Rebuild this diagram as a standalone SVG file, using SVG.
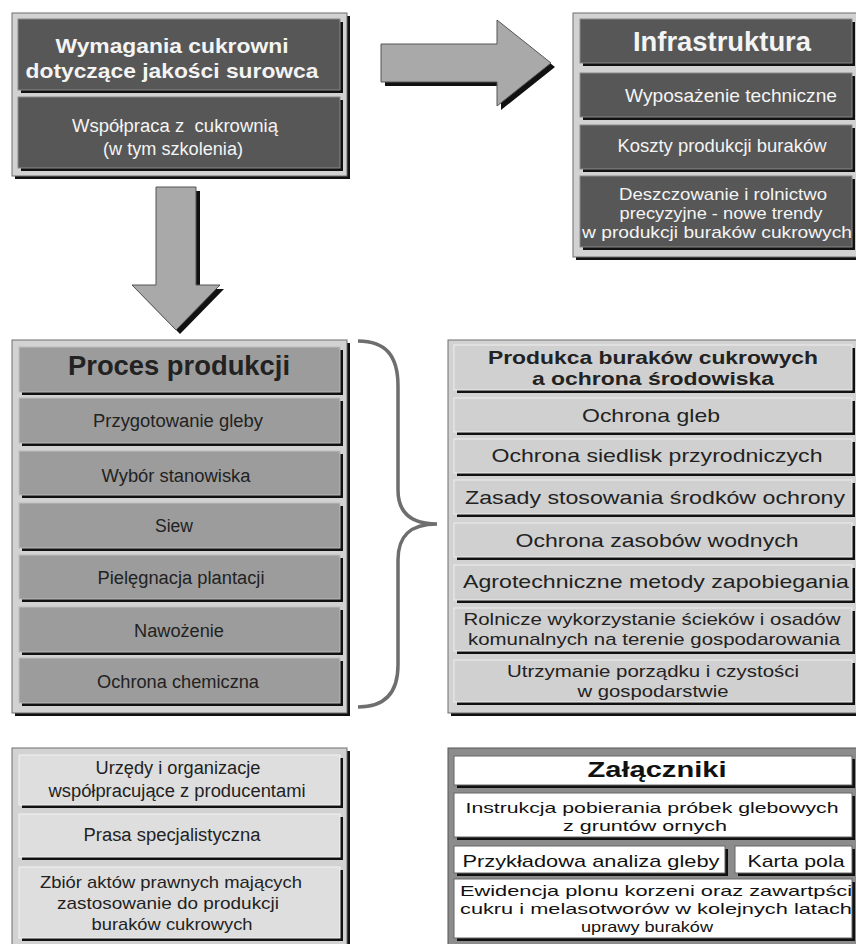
<svg xmlns="http://www.w3.org/2000/svg" width="856" height="944" viewBox="0 0 856 944">
<style>
text{font-family:"Liberation Sans",Arial,sans-serif;text-anchor:middle}
.fr{fill:#d2d2d2;stroke:#6e6e6e;stroke-width:1}
.frd{fill:#8c8c8c;stroke:#555;stroke-width:1}
.sh{fill:#111}
.dk{fill:#575757;stroke:#8a8a8a;stroke-width:1}
.md{fill:#9c9c9c;stroke:#bdbdbd;stroke-width:1}
.lt{fill:#d0d0d0;stroke:#eeeeee;stroke-width:1}
.lb{fill:#dedede;stroke:#f2f2f2;stroke-width:1}
.wh{fill:#ffffff;stroke:#666;stroke-width:1}
.tw{fill:#f4f4f4}
.tb{fill:#222}
.tk{fill:#111}
.b{font-weight:bold}
.arrow{fill:#a9a9a9;stroke:#555;stroke-width:1}
.brace{fill:none;stroke:#6e6e6e;stroke-width:3.5}
</style>

<g id="connectors">
  <path class="sh" d="M160,191 H200 V289 H224 L180,334 L136,289 H160 Z"/>
  <path class="arrow" d="M156,187 H196 V285 H220 L176,330 L132,285 H156 Z"/>
  <path class="sh" d="M385,48 H501 V24 L555,67 L501,110 V86 H385 Z"/>
  <path class="arrow" d="M381,44 H497 V20 L551,63 L497,106 V82 H381 Z"/>
  <path class="brace" d="M358,341 C386,341 398,356 398,386 L398,490 C398,512 410,524 437,524 C410,524 398,536 398,560 L398,665 C398,692 386,707 358,707"/>
</g>

<g id="wymagania">
  <rect class="sh" x="15" y="16" width="335" height="163"/>
  <rect class="fr" x="12" y="13" width="335" height="163"/>
  <rect class="sh" x="21" y="22" width="322" height="71"/>
  <rect class="dk" x="18" y="19" width="322" height="71"/>
  <text class="tw b" x="172" y="53" font-size="21" textLength="233" lengthAdjust="spacingAndGlyphs">Wymagania cukrowni</text>
  <text class="tw b" x="172" y="78" font-size="21" textLength="293" lengthAdjust="spacingAndGlyphs">dotyczące jakości surowca</text>
  <rect class="sh" x="21" y="100" width="322" height="71"/>
  <rect class="dk" x="18" y="97" width="322" height="71"/>
  <text class="tw" x="175" y="132" font-size="18" textLength="206" lengthAdjust="spacingAndGlyphs">Współpraca z&#160; cukrownią</text>
  <text class="tw" x="173" y="155" font-size="18" textLength="140" lengthAdjust="spacingAndGlyphs">(w tym szkolenia)</text>
</g>

<g id="infrastruktura">
  <rect class="sh" x="576" y="16" width="283" height="244"/>
  <rect class="fr" x="573" y="13" width="285" height="244"/>
  <rect class="sh" x="583" y="22" width="272" height="44"/>
  <rect class="dk" x="580" y="19" width="272" height="44"/>
  <text class="tw b" x="722" y="51" font-size="27" textLength="178" lengthAdjust="spacingAndGlyphs">Infrastruktura</text>
  <rect class="sh" x="583" y="76" width="272" height="44"/>
  <rect class="dk" x="580" y="73" width="272" height="44"/>
  <text class="tw" x="731" y="102" font-size="19" textLength="212" lengthAdjust="spacingAndGlyphs">Wyposażenie techniczne</text>
  <rect class="sh" x="583" y="128" width="272" height="44"/>
  <rect class="dk" x="580" y="125" width="272" height="44"/>
  <text class="tw" x="722" y="152" font-size="19" textLength="209" lengthAdjust="spacingAndGlyphs">Koszty produkcji buraków</text>
  <rect class="sh" x="583" y="179" width="272" height="71"/>
  <rect class="dk" x="580" y="176" width="272" height="71"/>
  <text class="tw" x="723" y="200" font-size="17" textLength="208" lengthAdjust="spacingAndGlyphs">Deszczowanie i rolnictwo</text>
  <text class="tw" x="721" y="219" font-size="17" textLength="203" lengthAdjust="spacingAndGlyphs">precyzyjne - nowe trendy</text>
  <text class="tw" x="717" y="238" font-size="17" textLength="270" lengthAdjust="spacingAndGlyphs">w produkcji buraków cukrowych</text>
</g>

<g id="proces">
  <rect class="sh" x="15" y="343" width="335" height="373"/>
  <rect class="fr" x="12" y="340" width="335" height="373"/>
  <rect class="sh" x="22" y="350" width="321" height="45"/>
  <rect class="md" x="19" y="347" width="321" height="45"/>
  <text class="tb b" x="179" y="375" font-size="27" textLength="222" lengthAdjust="spacingAndGlyphs">Proces produkcji</text>
  <rect class="sh" x="22" y="401" width="321" height="45"/>
  <rect class="md" x="19" y="398" width="321" height="45"/>
  <text class="tb" x="178" y="427" font-size="18" textLength="170" lengthAdjust="spacingAndGlyphs">Przygotowanie gleby</text>
  <rect class="sh" x="22" y="454" width="321" height="44"/>
  <rect class="md" x="19" y="451" width="321" height="44"/>
  <text class="tb" x="176" y="482" font-size="18" textLength="149" lengthAdjust="spacingAndGlyphs">Wybór stanowiska</text>
  <rect class="sh" x="22" y="506" width="321" height="45"/>
  <rect class="md" x="19" y="503" width="321" height="45"/>
  <text class="tb" x="174" y="532" font-size="18" textLength="38" lengthAdjust="spacingAndGlyphs">Siew</text>
  <rect class="sh" x="22" y="558" width="321" height="44"/>
  <rect class="md" x="19" y="555" width="321" height="44"/>
  <text class="tb" x="181" y="584" font-size="18" textLength="167" lengthAdjust="spacingAndGlyphs">Pielęgnacja plantacji</text>
  <rect class="sh" x="22" y="610" width="321" height="45"/>
  <rect class="md" x="19" y="607" width="321" height="45"/>
  <text class="tb" x="179" y="637" font-size="18" textLength="90" lengthAdjust="spacingAndGlyphs">Nawożenie</text>
  <rect class="sh" x="22" y="661" width="321" height="45"/>
  <rect class="md" x="19" y="658" width="321" height="45"/>
  <text class="tb" x="178" y="688" font-size="18" textLength="162" lengthAdjust="spacingAndGlyphs">Ochrona chemiczna</text>
</g>

<g id="srodowisko">
  <rect class="sh" x="451" y="343" width="408" height="373"/>
  <rect class="fr" x="448" y="340" width="410" height="373"/>
  <rect class="sh" x="457" y="348" width="398" height="45"/>
  <rect class="lt" x="454" y="345" width="398" height="45"/>
  <text class="tb b" x="653" y="364" font-size="19" textLength="330" lengthAdjust="spacingAndGlyphs">Produkca buraków cukrowych</text>
  <text class="tb b" x="653" y="385" font-size="19" textLength="242" lengthAdjust="spacingAndGlyphs">a ochrona środowiska</text>
  <rect class="sh" x="457" y="401" width="398" height="34"/>
  <rect class="lt" x="454" y="398" width="398" height="34"/>
  <text class="tb" x="651" y="422" font-size="19" textLength="138" lengthAdjust="spacingAndGlyphs">Ochrona gleb</text>
  <rect class="sh" x="457" y="442" width="398" height="34"/>
  <rect class="lt" x="454" y="439" width="398" height="34"/>
  <text class="tb" x="657" y="462" font-size="19" textLength="331" lengthAdjust="spacingAndGlyphs">Ochrona siedlisk przyrodniczych</text>
  <rect class="sh" x="457" y="483" width="398" height="34"/>
  <rect class="lt" x="454" y="480" width="398" height="34"/>
  <text class="tb" x="655" y="504" font-size="19" textLength="380" lengthAdjust="spacingAndGlyphs">Zasady stosowania środków ochrony</text>
  <rect class="sh" x="457" y="526" width="398" height="34"/>
  <rect class="lt" x="454" y="523" width="398" height="34"/>
  <text class="tb" x="657" y="547" font-size="19" textLength="283" lengthAdjust="spacingAndGlyphs">Ochrona zasobów wodnych</text>
  <rect class="sh" x="457" y="568" width="398" height="35"/>
  <rect class="lt" x="454" y="565" width="398" height="35"/>
  <text class="tb" x="656" y="588" font-size="19" textLength="386" lengthAdjust="spacingAndGlyphs">Agrotechniczne metody zapobiegania</text>
  <rect class="sh" x="457" y="611" width="398" height="43"/>
  <rect class="lt" x="454" y="608" width="398" height="43"/>
  <text class="tb" x="652" y="625" font-size="17" textLength="377" lengthAdjust="spacingAndGlyphs">Rolnicze wykorzystanie ścieków i osadów</text>
  <text class="tb" x="654" y="645" font-size="17" textLength="372" lengthAdjust="spacingAndGlyphs">komunalnych na terenie gospodarowania</text>
  <rect class="sh" x="457" y="663" width="398" height="42"/>
  <rect class="lt" x="454" y="660" width="398" height="42"/>
  <text class="tb" x="653" y="677" font-size="17" textLength="292" lengthAdjust="spacingAndGlyphs">Utrzymanie porządku i czystości</text>
  <text class="tb" x="653" y="697" font-size="17" textLength="151" lengthAdjust="spacingAndGlyphs">w gospodarstwie</text>
</g>

<g id="urzedy">
  <rect class="sh" x="15" y="751" width="335" height="200"/>
  <rect class="fr" x="12" y="748" width="335" height="200"/>
  <rect class="sh" x="22" y="758" width="321" height="50"/>
  <rect class="lb" x="19" y="755" width="321" height="50"/>
  <text class="tb" x="178" y="774" font-size="18" textLength="165" lengthAdjust="spacingAndGlyphs">Urzędy i organizacje</text>
  <text class="tb" x="177" y="797" font-size="18" textLength="257" lengthAdjust="spacingAndGlyphs">współpracujące z producentami</text>
  <rect class="sh" x="22" y="817" width="321" height="43"/>
  <rect class="lb" x="19" y="814" width="321" height="43"/>
  <text class="tb" x="172" y="841" font-size="18" textLength="177" lengthAdjust="spacingAndGlyphs">Prasa specjalistyczna</text>
  <rect class="sh" x="22" y="870" width="321" height="71"/>
  <rect class="lb" x="19" y="867" width="321" height="71"/>
  <text class="tb" x="171" y="888" font-size="17" textLength="262" lengthAdjust="spacingAndGlyphs">Zbiór aktów prawnych mających</text>
  <text class="tb" x="168" y="909" font-size="17" textLength="222" lengthAdjust="spacingAndGlyphs">zastosowanie do produkcji</text>
  <text class="tb" x="172" y="930" font-size="17" textLength="161" lengthAdjust="spacingAndGlyphs">buraków cukrowych</text>
</g>

<g id="zalaczniki">
  <rect class="sh" x="451" y="751" width="408" height="200"/>
  <rect class="frd" x="448" y="748" width="410" height="200"/>
  <rect class="sh" x="457" y="759" width="398" height="29"/>
  <rect class="wh" x="454" y="756" width="398" height="29"/>
  <text class="tk b" x="657" y="777" font-size="22" textLength="139" lengthAdjust="spacingAndGlyphs">Załączniki</text>
  <rect class="sh" x="457" y="796" width="398" height="44"/>
  <rect class="wh" x="454" y="793" width="398" height="44"/>
  <text class="tk" x="652" y="813" font-size="15" textLength="373" lengthAdjust="spacingAndGlyphs">Instrukcja pobierania próbek glebowych</text>
  <text class="tk" x="645" y="831" font-size="15" textLength="164" lengthAdjust="spacingAndGlyphs">z gruntów ornych</text>
  <rect class="sh" x="457" y="849" width="271" height="27"/>
  <rect class="wh" x="454" y="846" width="271" height="27"/>
  <text class="tk" x="591" y="867" font-size="17" textLength="257" lengthAdjust="spacingAndGlyphs">Przykładowa analiza gleby</text>
  <rect class="sh" x="738" y="849" width="117" height="27"/>
  <rect class="wh" x="735" y="846" width="117" height="27"/>
  <text class="tk" x="796" y="867" font-size="17" textLength="97" lengthAdjust="spacingAndGlyphs">Karta pola</text>
  <rect class="sh" x="457" y="882" width="398" height="59"/>
  <rect class="wh" x="454" y="879" width="398" height="59"/>
  <text class="tk" x="656" y="896" font-size="15" textLength="392" lengthAdjust="spacingAndGlyphs">Ewidencja plonu korzeni oraz zawartpści</text>
  <text class="tk" x="656" y="914" font-size="15" textLength="392" lengthAdjust="spacingAndGlyphs">cukru i melasotworów w kolejnych latach</text>
  <text class="tk" x="647" y="932" font-size="15" textLength="132" lengthAdjust="spacingAndGlyphs">uprawy buraków</text>
</g>
</svg>
